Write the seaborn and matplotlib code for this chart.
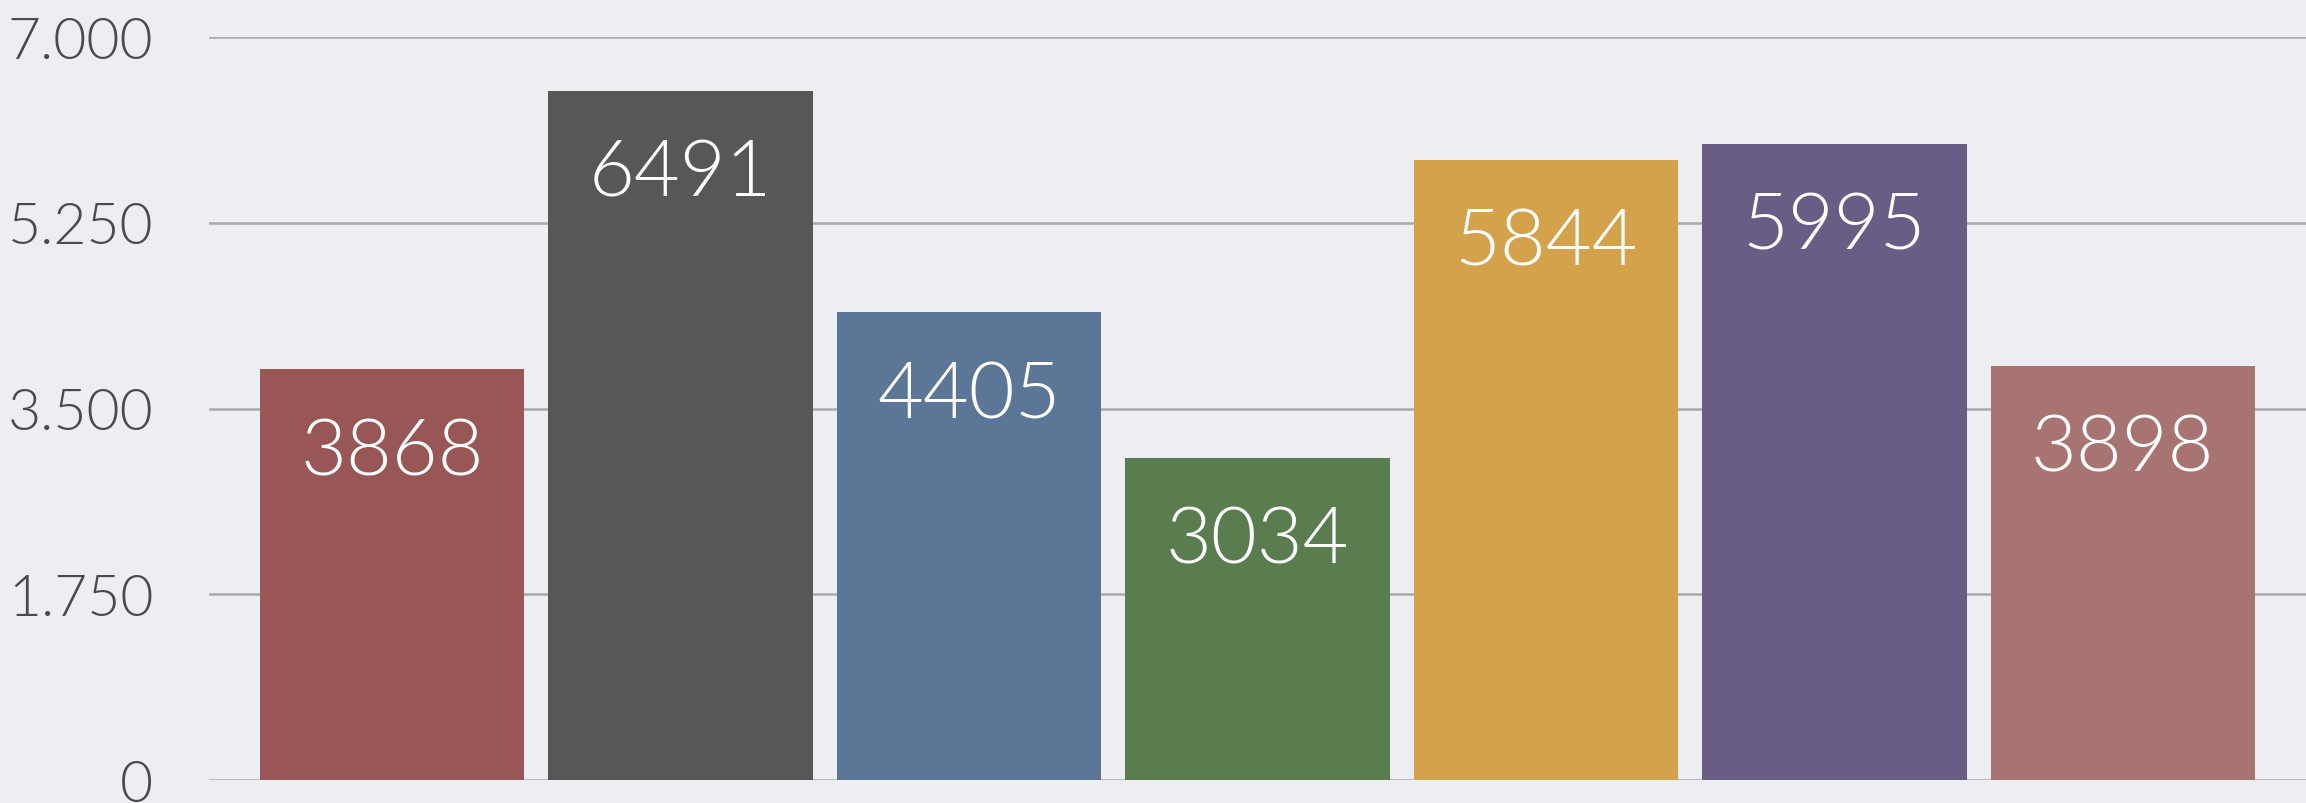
import seaborn as sns
import matplotlib.pyplot as plt
import pandas as pd

# values
categories = ["A", "B", "C", "D", "E", "F", "G"]
values = [3868, 6491, 4405, 3034, 5844, 5995, 3898]
colors = ["#985656", "#575757", "#5b7696", "#5a7d50", "#d4a24b", "#6a5d85", "#a87471"]
yticks = [0, 1750, 3500, 5250, 7000]
ytick_labels = ["0", "1.750", "3.500", "5.250", "7.000"]

df = pd.DataFrame({"cat": categories, "val": values})

sns.set_theme(style="white")
plt.rcParams["font.family"] = ["Lato", "DejaVu Sans"]

bg = "#eceef1"
fig = plt.figure(figsize=(23.06, 8.04), dpi=100, facecolor=bg)
ax = fig.add_axes([0.0906, 0.0286, 0.9094, 0.9241])
ax.set_facecolor(bg)

sns.barplot(data=df, x="cat", y="val", hue="cat", palette=colors, legend=False,
            saturation=1, width=0.917, linewidth=0, ax=ax, zorder=3)

ax.set_ylim(0, 7000)
ax.set_xlim(-0.635, 6.635)
ax.set_yticks(yticks)
ax.set_yticklabels(ytick_labels, fontsize=41, color="#4a4a4a", fontweight=300)
ax.tick_params(axis="y", length=0, pad=40)
ax.set_xticks([])
ax.set_xlabel("")
ax.set_ylabel("")
ax.yaxis.grid(True, color="#a9a9a9", linewidth=1.8, zorder=0)
ax.set_axisbelow(True)
for s in ax.spines.values():
    s.set_visible(False)

for i, v in enumerate(values):
    ax.annotate(str(v), (i, v), xytext=(0, -34), textcoords="offset points",
                ha="center", va="top", fontsize=57, color="white",
                fontweight=300, zorder=4)

fig.savefig("out.png", dpi=100, facecolor=bg)
